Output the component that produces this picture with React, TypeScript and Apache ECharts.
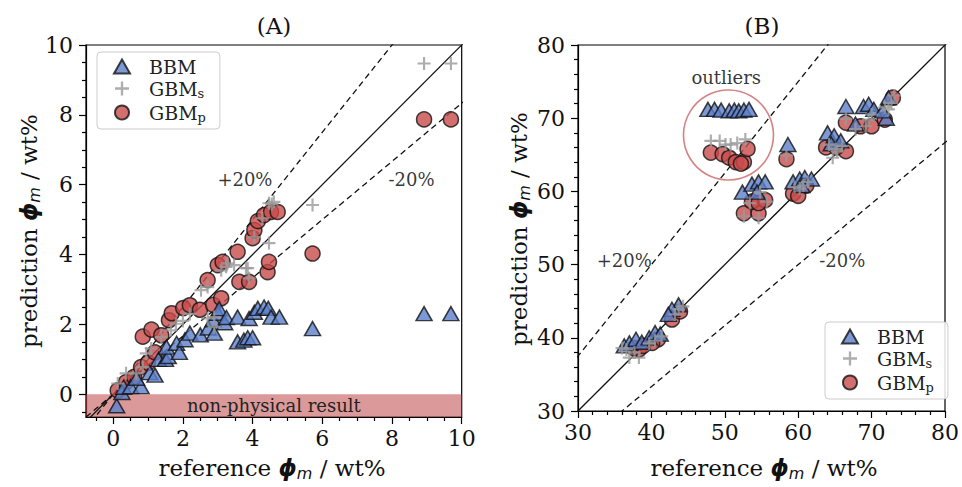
import React, { useEffect, useRef } from 'react';
import * as echarts from 'echarts';

// ---------- axis limits & ticks ----------
const A_X_MIN = -0.78;
const A_X_MAX = 10;
const A_Y_MIN = -0.65;
const A_Y_MAX = 10;
const A_MAJOR = [0, 2, 4, 6, 8, 10];
const A_MINOR = [-0.5, 0.5, 1, 1.5, 2.5, 3, 3.5, 4.5, 5, 5.5, 6.5, 7, 7.5, 8.5, 9, 9.5];
const B_MIN = 30;
const B_MAX = 80;
const B_STEP = 10;

// reference lines: identity, +20 %, -20 %
const LINE_FACTORS = [1, 1 / 0.8, 1 / 1.2];

// ---------- panel A data [reference, prediction] ----------
const A_BBM = [
  [0.1, -0.33], [0.25, 0.05], [0.3, 0.2], [0.5, 0.22], [0.8, 0.22], [0.67, 0.46], [1.05, 0.62], [1.2, 0.55],
  [1.3, 1.0], [1.5, 1.0], [1.58, 1.08], [1.53, 1.35], [1.82, 1.46], [1.9, 1.2], [2.06, 1.56], [2.2, 1.75],
  [2.5, 1.7], [2.73, 1.9], [2.87, 2.13], [2.9, 1.75], [3.01, 2.32], [3.04, 2.45], [3.2, 2.05], [3.25, 2.2],
  [3.57, 2.21], [3.57, 1.5], [3.75, 1.55], [3.86, 1.62], [4.0, 1.62], [3.9, 2.17], [4.05, 2.35], [4.15, 2.46],
  [4.33, 2.5], [4.45, 2.46], [4.53, 2.21], [4.77, 2.21], [5.72, 1.88], [8.92, 2.31], [9.69, 2.31],
];
const A_GBMS = [
  [0.13, 0.31], [0.37, 0.6], [0.66, 0.6], [0.85, 0.78], [0.95, 1.17], [1.09, 1.31], [1.38, 1.64], [1.66, 1.83],
  [1.8, 2.02], [2.0, 2.1], [2.2, 2.3], [2.9, 1.93], [2.71, 2.17], [2.9, 2.21], [2.52, 2.98], [2.71, 3.07],
  [3.1, 3.55], [3.28, 3.75], [3.24, 3.65], [3.47, 3.7], [3.81, 3.61], [3.86, 3.61], [3.9, 3.32], [4.47, 4.33],
  [4.05, 4.5], [4.28, 5.04], [4.47, 5.47], [4.61, 5.51], [4.55, 5.45], [5.72, 5.42], [8.92, 9.47], [9.69, 9.47],
];
const A_GBMP = [
  [0.13, 0.11], [0.37, 0.35], [0.6, 0.5], [0.8, 0.78], [1.0, 0.9], [1.2, 1.2], [0.85, 1.65], [1.1, 1.85],
  [1.38, 1.69], [1.6, 2.12], [1.68, 2.32], [2.01, 2.47], [2.2, 2.55], [2.49, 2.42], [2.87, 2.56], [2.71, 3.27],
  [3.0, 3.7], [3.14, 3.79], [3.1, 2.75], [3.57, 4.08], [3.62, 3.22], [3.9, 3.22], [4.43, 3.5], [4.47, 3.79],
  [4.0, 4.47], [4.05, 4.7], [4.15, 4.96], [4.33, 5.13], [4.53, 5.22], [4.72, 5.22], [5.72, 4.03], [8.92, 7.87],
  [9.69, 7.87],
];

// ---------- panel B data ----------
const B_BBM = [
  [47.7, 71.2], [48.6, 71.2], [49.5, 71.1], [50.6, 71.0], [51.3, 71.1], [51.9, 71.0], [52.6, 71.1], [53.3, 71.2],
  [58.6, 66.4],
  [52.4, 59.9], [53.7, 61.0], [54.6, 61.3], [55.5, 61.3], [54.4, 59.9],
  [59.3, 61.3], [60.2, 61.7], [60.9, 61.9], [61.8, 61.7], [60.5, 60.8],
  [64.0, 68.0], [64.9, 67.6], [65.8, 66.9], [64.5, 66.5],
  [66.5, 71.6], [68.9, 71.6], [69.6, 71.9], [70.3, 71.2], [67.8, 69.2], [72.0, 70.0], [72.3, 72.8], [71.5, 71.0],
  [43.7, 44.5], [42.8, 43.9], [42.3, 43.2],
  [36.3, 38.9], [37.0, 39.3], [37.9, 39.8], [38.7, 39.4], [39.7, 40.0], [40.5, 40.7], [41.2, 40.5],
];
const B_GBMS = [
  [48.1, 66.9], [49.3, 66.9], [50.1, 66.4], [50.8, 66.4], [51.7, 66.6], [52.8, 67.1],
  [58.4, 64.9],
  [52.6, 56.6], [54.6, 56.4], [53.4, 58.4], [55.7, 58.6], [54.8, 59.9],
  [59.5, 60.6], [60.2, 60.4], [60.7, 60.8], [61.3, 61.3],
  [64.2, 66.4], [65.1, 65.8], [66.0, 66.2], [64.7, 64.6], [65.3, 65.5],
  [66.5, 69.9], [67.8, 68.5], [69.2, 68.9], [69.6, 69.8], [70.0, 70.5], [72.3, 71.2], [72.7, 72.1], [73.1, 73.1], [71.8, 71.5],
  [43.2, 43.2], [43.7, 43.9], [44.3, 44.3],
  [37.0, 37.3], [38.3, 37.3], [37.7, 38.0], [36.6, 38.4], [39.7, 39.2], [40.5, 39.6], [41.4, 40.2], [36.0, 38.6],
];
const B_GBMP = [
  [48.1, 65.3], [49.7, 65.1], [50.6, 64.6], [51.5, 64.0], [52.6, 64.0], [53.1, 65.8], [52.2, 63.8],
  [58.4, 64.4],
  [52.6, 57.0], [54.6, 57.0], [53.7, 58.6], [55.5, 58.8], [54.6, 58.4],
  [59.3, 59.7], [60.0, 59.4], [61.1, 60.8],
  [63.8, 66.0], [66.5, 65.5], [65.2, 66.0],
  [66.5, 69.4], [68.5, 68.9], [70.0, 68.9], [71.8, 69.8], [72.9, 72.8],
  [42.8, 42.5], [43.9, 43.6],
  [38.3, 38.4], [37.6, 38.6], [38.9, 38.9], [40.9, 39.8], [40.1, 39.3],
];

// annotations
const A_NOTES = [
  { name: '+20%', value: [3.78, 6.14] },
  { name: '-20%', value: [8.56, 6.14] },
];
const B_NOTES = [
  { name: '+20%', value: [36.3, 50.6] },
  { name: '-20%', value: [66.0, 50.6] },
  { name: 'outliers', value: [50.2, 75.5] },
];
const OUTLIER_CENTER = [50.5, 67.7];
const LEGEND_NAMES = ['BBM', 'GBMs', 'GBMp'];

const SERIF = "'DejaVu Serif', serif";
const SANS = "'DejaVu Sans', sans-serif";
const PLUS = 'path://M5,0H7V5H12V7H7V12H5V7H0V5H5Z';

const STYLE: Record<string, any> = {
  BBM: { symbol: 'triangle', symbolSize: [16, 14], itemStyle: { color: '#5b7fca', borderColor: '#111', borderWidth: 1.5 }, z: 4 },
  GBMs: { symbol: PLUS, symbolSize: 13, itemStyle: { color: '#9a9a9a' }, z: 5 },
  GBMp: { symbol: 'circle', symbolSize: 15, itemStyle: { color: '#c94b4b', borderColor: '#111', borderWidth: 1.5 }, z: 3 },
};

function scatter(name: string, data: number[][], idx: number) {
  return { type: 'scatter', name, data, xAxisIndex: idx, yAxisIndex: idx, silent: true, ...STYLE[name] };
}

function refLines(idx: number, lo: number, hi: number) {
  return LINE_FACTORS.map((k, i) => ({
    type: 'line',
    name: 'ref' + idx + '_' + i,
    xAxisIndex: idx,
    yAxisIndex: idx,
    data: [[lo, lo * k], [hi, hi * k]],
    symbol: 'none',
    clip: true,
    silent: true,
    z: 2,
    lineStyle: { color: '#111', width: 1.3, type: i === 0 ? 'solid' : [6, 4] },
  }));
}

function notes(idx: number, data: any[]) {
  return {
    type: 'scatter',
    name: 'notes' + idx,
    xAxisIndex: idx,
    yAxisIndex: idx,
    data,
    symbolSize: 1,
    silent: true,
    itemStyle: { color: 'rgba(0,0,0,0)' },
    label: { show: true, position: 'inside', formatter: '{b}', fontFamily: SERIF, fontSize: 18, color: '#000' },
    z: 6,
  };
}

const axisLineStyle = { color: '#000', width: 1.2 };
const tickLabel = { fontFamily: SERIF, fontSize: 22, color: '#111' };

const legendCommon = {
  orient: 'vertical',
  data: LEGEND_NAMES,
  selectedMode: false,
  backgroundColor: 'rgba(255,255,255,0.85)',
  borderColor: '#cccccc',
  borderWidth: 1,
  borderRadius: 4,
  padding: [5, 14, 5, 16],
  itemWidth: 16,
  itemHeight: 14,
  itemGap: 3,
  formatter: (n: string) => (n === 'BBM' ? '{n|BBM}' : `{n|GBM}{s|${n.slice(3)}}`),
  textStyle: {
    fontFamily: SERIF,
    fontSize: 19,
    color: '#222',
    padding: [0, 0, 0, 14],
    rich: {
      n: { fontFamily: SERIF, fontSize: 19, color: '#222' },
      s: { fontFamily: SERIF, fontSize: 13, color: '#222', padding: [10, 0, 0, 0] },
    },
  },
};

const axisName = (x: number, y: number, word: string, rotate: boolean) => ({
  type: 'text',
  x,
  y,
  rotation: rotate ? Math.PI / 2 : 0,
  style: {
    text: `{t|${word} }{p|ϕ}{s|m}{t| / wt%}`,
    align: 'center',
    verticalAlign: 'middle',
    rich: {
      t: { fontFamily: SERIF, fontSize: 23, fill: '#111' },
      p: { fontFamily: SANS, fontSize: 23, fontStyle: 'italic', fontWeight: 'bold', fill: '#111' },
      s: { fontFamily: SANS, fontSize: 16, fontStyle: 'italic', fill: '#111', padding: [11, 0, 0, 0] },
    },
  },
});

const option: any = {
  animation: false,
  backgroundColor: '#fff',
  grid: [
    { left: 86, top: 45, width: 375.7, height: 372, show: true, borderColor: '#000', borderWidth: 1.2, backgroundColor: 'transparent' },
    { left: 578, top: 45, width: 367, height: 366, show: true, borderColor: '#000', borderWidth: 1.2, backgroundColor: 'transparent' },
  ],
  xAxis: [
    {
      gridIndex: 0, type: 'value', min: A_X_MIN, max: A_X_MAX,
      axisLine: { show: true, onZero: false, lineStyle: axisLineStyle },
      axisTick: { show: true, customValues: A_MAJOR, length: 7, lineStyle: axisLineStyle },
      axisLabel: { customValues: A_MAJOR, margin: 10, ...tickLabel },
      splitLine: { show: false },
    },
    {
      gridIndex: 1, type: 'value', min: B_MIN, max: B_MAX, interval: B_STEP,
      axisLine: { show: true, onZero: false, lineStyle: axisLineStyle },
      axisTick: { show: true, length: 7, lineStyle: axisLineStyle },
      minorTick: { show: true, splitNumber: 5, length: 4, lineStyle: axisLineStyle },
      axisLabel: { margin: 10, ...tickLabel },
      splitLine: { show: false },
      minorSplitLine: { show: false },
    },
    {
      gridIndex: 0, type: 'value', min: A_X_MIN, max: A_X_MAX, position: 'bottom',
      axisLine: { show: false, onZero: false },
      axisTick: { show: true, customValues: A_MINOR, length: 4, lineStyle: axisLineStyle },
      axisLabel: { show: false },
      splitLine: { show: false },
    },
  ],
  yAxis: [
    {
      gridIndex: 0, type: 'value', min: A_Y_MIN, max: A_Y_MAX,
      axisLine: { show: true, onZero: false, lineStyle: axisLineStyle },
      axisTick: { show: true, customValues: A_MAJOR, length: 7, lineStyle: axisLineStyle },
      axisLabel: { customValues: A_MAJOR, margin: 13, ...tickLabel },
      splitLine: { show: false },
    },
    {
      gridIndex: 1, type: 'value', min: B_MIN, max: B_MAX, interval: B_STEP,
      axisLine: { show: true, onZero: false, lineStyle: axisLineStyle },
      axisTick: { show: true, length: 7, lineStyle: axisLineStyle },
      minorTick: { show: true, splitNumber: 5, length: 4, lineStyle: axisLineStyle },
      axisLabel: { margin: 13, ...tickLabel },
      splitLine: { show: false },
      minorSplitLine: { show: false },
    },
    {
      gridIndex: 0, type: 'value', min: A_Y_MIN, max: A_Y_MAX, position: 'left',
      axisLine: { show: false, onZero: false },
      axisTick: { show: true, customValues: A_MINOR, length: 4, lineStyle: axisLineStyle },
      axisLabel: { show: false },
      splitLine: { show: false },
    },
  ],
  legend: [
    { ...legendCommon, left: 97, top: 52 },
    { ...legendCommon, left: 825, top: 322 },
  ],
  graphic: [
    { type: 'text', x: 274, y: 26, style: { text: '(A)', fontFamily: SERIF, fontSize: 23, fill: '#111', align: 'center', verticalAlign: 'middle' } },
    { type: 'text', x: 762, y: 26, style: { text: '(B)', fontFamily: SERIF, fontSize: 23, fill: '#111', align: 'center', verticalAlign: 'middle' } },
    axisName(272, 468, 'reference', false),
    axisName(764, 468, 'reference', false),
    axisName(29, 231, 'prediction', true),
    axisName(519, 229, 'prediction', true),
  ],
  series: [
    ...refLines(0, -1, 20).map((s, i) =>
      i === 0
        ? {
            ...s,
            markArea: {
              silent: true,
              itemStyle: { color: 'rgba(190,70,70,0.55)' },
              label: { show: true, position: 'inside', fontFamily: SERIF, fontSize: 18, color: '#222' },
              data: [[{ name: 'non-physical result', yAxis: A_Y_MIN }, { yAxis: 0 }]],
            },
          }
        : s
    ),
    ...refLines(1, 0, 100),
    scatter('GBMp', A_GBMP, 0),
    scatter('BBM', A_BBM, 0),
    scatter('GBMs', A_GBMS, 0),
    {
      type: 'scatter', name: 'outlierRing', xAxisIndex: 1, yAxisIndex: 1, silent: true,
      data: [OUTLIER_CENTER], symbol: 'circle', symbolSize: 90, z: 2,
      itemStyle: { color: 'rgba(0,0,0,0)', borderColor: '#c96464', borderWidth: 1.6 },
    },
    scatter('GBMp', B_GBMP, 1),
    scatter('BBM', B_BBM, 1),
    scatter('GBMs', B_GBMS, 1),
    notes(0, A_NOTES),
    notes(1, B_NOTES),
  ],
};

export default function App() {
  const ref = useRef<HTMLDivElement>(null);
  useEffect(() => {
    const chart = echarts.init(ref.current!, null, { renderer: 'svg' });
    chart.setOption(option);
    return () => chart.dispose();
  }, []);
  return (
    <div
      ref={ref}
      style={{ position: 'fixed', left: 0, top: 0, width: 962, height: 487, background: '#fff' }}
    />
  );
}
